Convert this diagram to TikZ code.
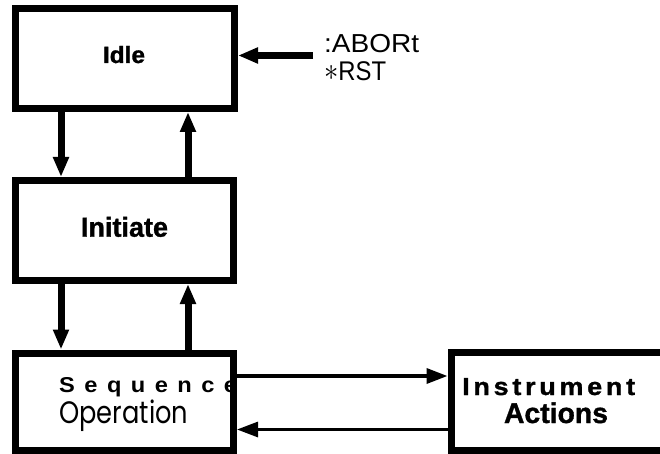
\documentclass[tikz,border=0pt]{standalone}
\usepackage{fontspec}
\usepackage{graphicx}
\setmainfont{Liberation Sans}
\newfontfamily\opfont{Poppins}
\newfontfamily\heavyfont[FakeBold=1.2]{Liberation Sans Bold}
\usetikzlibrary{arrows.meta}
\newcommand\lsgap[1]{\kern#1\relax}
\begin{document}
\begin{tikzpicture}[x=1pt,y=-1pt,
  box/.style={draw=black, line width=7pt, inner sep=0pt},
  lbl/.style={inner sep=0pt, text=black},
  thickarr/.style={line width=7pt, -{Triangle[width=15pt,length=20pt]}},
  thinarr/.style={line width=3.5pt, -{Triangle[width=15pt,length=21pt]}}]
\useasboundingbox (0,0) rectangle (660,454);
% labels (drawn first so box borders cover overlaps)
\node[lbl, anchor=base] (tIdle) at (124,63)
  {\heavyfont\fontsize{23.5}{26}\selectfont\resizebox{42pt}{\height}{Idle}};
\node[lbl, anchor=base] (tInit) at (124.5,236.7)
  {\heavyfont\fontsize{27.5}{30}\selectfont\resizebox{87pt}{\height}{Initiate}};
\node[lbl, anchor=base west] (tSeq) at (59,392)
  {\fontsize{21.5}{24}\selectfont\bfseries\scalebox{1.1}[1]{S\lsgap{8.6pt}e\lsgap{8.6pt}q\lsgap{8.6pt}u\lsgap{8.6pt}e\lsgap{8.6pt}n\lsgap{8.6pt}c\lsgap{8.6pt}e}};
\node[lbl, anchor=base west] (tOp) at (59,423)
  {\opfont\fontsize{31}{34}\selectfont\resizebox{129pt}{\height}{Operation}};
\node[lbl, anchor=base west] (tInst) at (462,395)
  {\heavyfont\fontsize{24.5}{27}\selectfont\scalebox{1.1}[1]{I\lsgap{3.4pt}n\lsgap{3.4pt}s\lsgap{3.4pt}t\lsgap{3.4pt}r\lsgap{3.4pt}u\lsgap{3.4pt}m\lsgap{3.4pt}e\lsgap{3.4pt}n\lsgap{3.4pt}t}};
\node[lbl, anchor=base] (tAct) at (556,423)
  {\heavyfont\fontsize{28.5}{31}\selectfont\resizebox{104pt}{\height}{Actions}};
\node[lbl, anchor=base west] (tAbort) at (324,53)
  {\fontsize{26}{28}\selectfont\resizebox{95pt}{\height}{:ABORt}};
\node[lbl, anchor=base west] (tRst) at (324,81)
  {\fontsize{27}{28}\selectfont\resizebox{62pt}{\height}{\raisebox{0.05ex}{\scalebox{1.3}{$\ast$}}RST}};
% boxes
\node[box, minimum width=219pt, minimum height=100pt] (idle) at (125,58.5) {};
\node[box, minimum width=218pt, minimum height=100pt] (init) at (124.5,230.5) {};
\node[box, minimum width=218pt, minimum height=97pt] (seq) at (124.5,401.5) {};
\node[box, minimum width=249pt, minimum height=97.5pt] (inst) at (575.5,401.25) {};
% helper coordinates
\coordinate (colA) at (61,0);
\coordinate (colB) at (188,0);
\coordinate (rowA) at (0,376);
\coordinate (rowB) at (0,429.5);
\coordinate (src) at (313,55.5);
% connectors
\draw[thickarr] (idle.south -| colA) -- (init.north -| colA);
\draw[thickarr] (init.north -| colB) -- (idle.south -| colB);
\draw[thickarr] (init.south -| colA) -- (seq.north -| colA);
\draw[thickarr] (seq.north -| colB) -- (init.south -| colB);
\draw[thickarr] (src) -- (idle.east |- src);
\draw[thinarr] (seq.east |- rowA) -- (inst.west |- rowA);
\draw[thinarr, line width=3pt] (inst.west |- rowB) -- (seq.east |- rowB);
\end{tikzpicture}
\end{document}
